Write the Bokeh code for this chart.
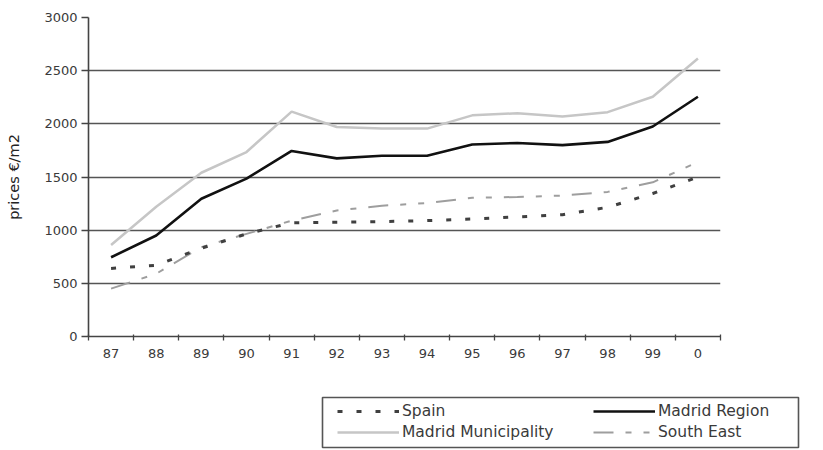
from bokeh.plotting import figure
from bokeh.models import Range1d, FixedTicker, Legend, LegendItem
from bokeh.embed import file_html
from bokeh.resources import INLINE

years = ["87", "88", "89", "90", "91", "92", "93", "94", "95", "96", "97", "98", "99", "0"]
spain = [640, 670, 830, 965, 1070, 1075, 1080, 1090, 1105, 1125, 1145, 1215, 1345, 1500]
madrid_region = [745, 950, 1295, 1485, 1745, 1675, 1700, 1700, 1805, 1820, 1800, 1830, 1975, 2255]
madrid_muni = [860, 1220, 1540, 1735, 2115, 1970, 1955, 1955, 2080, 2100, 2070, 2110, 2255, 2615]
south_east = [450, 590, 840, 965, 1090, 1185, 1230, 1255, 1305, 1312, 1325, 1360, 1450, 1640]
y_ticks = [0, 500, 1000, 1500, 2000, 2500, 3000]

xs = [i + 0.5 for i in range(len(years))]
series = {
    "Spain": spain,
    "Madrid Region": madrid_region,
    "Madrid Municipality": madrid_muni,
    "South East": south_east,
}

FONT = "DejaVu Sans"
TXT = "#3a3a3a"

STYLES = {
    "Spain": dict(line_color="#404040", line_width=3, line_dash="5 14"),
    "Madrid Region": dict(line_color="#111111", line_width=2.6),
    "Madrid Municipality": dict(line_color="#c6c6c6", line_width=2.5),
    "South East": dict(line_color="#9e9e9e", line_width=2, line_dash="20 12 6 12 6 12"),
}

p = figure(width=807, height=394, output_backend="svg", toolbar_location=None,
           x_range=Range1d(0, len(years)), y_range=Range1d(0, 3000),
           min_border_left=88, min_border_right=87, min_border_top=17, min_border_bottom=58)
p.outline_line_color = None
p.background_fill_color = "white"
p.border_fill_color = "white"

p.xgrid.visible = False
p.ygrid.ticker = FixedTicker(ticks=y_ticks[1:-1])
p.ygrid.grid_line_color = "#555555"
p.ygrid.grid_line_width = 1.6

for name in ["Madrid Municipality", "South East", "Spain", "Madrid Region"]:
    p.line(xs, series[name], **STYLES[name])

# x axis: labels at category centres, ticks between categories
p.xaxis.ticker = FixedTicker(ticks=xs, minor_ticks=list(range(len(years) + 1)))
p.xaxis.major_label_overrides = {x: lab for x, lab in zip(xs, years)}
p.xaxis.major_tick_line_color = None
p.xaxis.minor_tick_in = 2
p.xaxis.minor_tick_out = 4
p.xaxis.minor_tick_line_color = "#444444"
p.xaxis.minor_tick_line_width = 1.3
p.xaxis.axis_line_color = "#444444"
p.xaxis.axis_line_width = 1.6
p.xaxis.major_label_text_font = FONT
p.xaxis.major_label_text_font_size = "13px"
p.xaxis.major_label_text_color = TXT
p.xaxis.major_label_standoff = 6

p.yaxis.ticker = FixedTicker(ticks=y_ticks)
p.yaxis.minor_tick_line_color = None
p.yaxis.major_tick_in = 0
p.yaxis.major_tick_out = 7
p.yaxis.major_tick_line_color = "#444444"
p.yaxis.major_tick_line_width = 1.3
p.yaxis.axis_line_color = "#444444"
p.yaxis.axis_line_width = 1.6
p.yaxis.major_label_text_font = FONT
p.yaxis.major_label_text_font_size = "13px"
p.yaxis.major_label_text_color = TXT
p.yaxis.major_label_standoff = 4
p.yaxis.axis_label = "prices €/m2"
p.yaxis.axis_label_text_font = FONT
p.yaxis.axis_label_text_font_size = "14.5px"
p.yaxis.axis_label_text_font_style = "normal"
p.yaxis.axis_label_text_color = "#222222"
p.yaxis.axis_label_standoff = 19

# legend strip: its frame outline is the legend box
lg = figure(width=807, height=55, output_backend="svg", toolbar_location=None,
            x_range=Range1d(0, 1), y_range=Range1d(-2, -1),
            x_axis_location=None, y_axis_location=None,
            min_border_left=322, min_border_right=9, min_border_top=3, min_border_bottom=2)
lg.outline_line_color = "#555555"
lg.outline_line_width = 1.6
lg.grid.visible = False
lg.border_fill_color = "white"

def make_legend(names, x):
    items = []
    for name in names:
        r = lg.line(xs, series[name], **STYLES[name])  # out of view: only the legend sample shows
        items.append(LegendItem(label=name, renderers=[r]))
    return Legend(items=items, location=(x, 6), margin=0, padding=0, spacing=3,
                  glyph_width=62, glyph_height=18, label_height=18, label_standoff=3,
                  label_text_font=FONT, label_text_font_size="15.5px", label_text_color=TXT,
                  border_line_color=None, background_fill_alpha=0.0)

lg.add_layout(make_legend(["Spain", "Madrid Municipality"], 15), "center")
lg.add_layout(make_legend(["Madrid Region", "South East"], 271), "center")

open("out.html", "w").write(file_html([p, lg], INLINE))
